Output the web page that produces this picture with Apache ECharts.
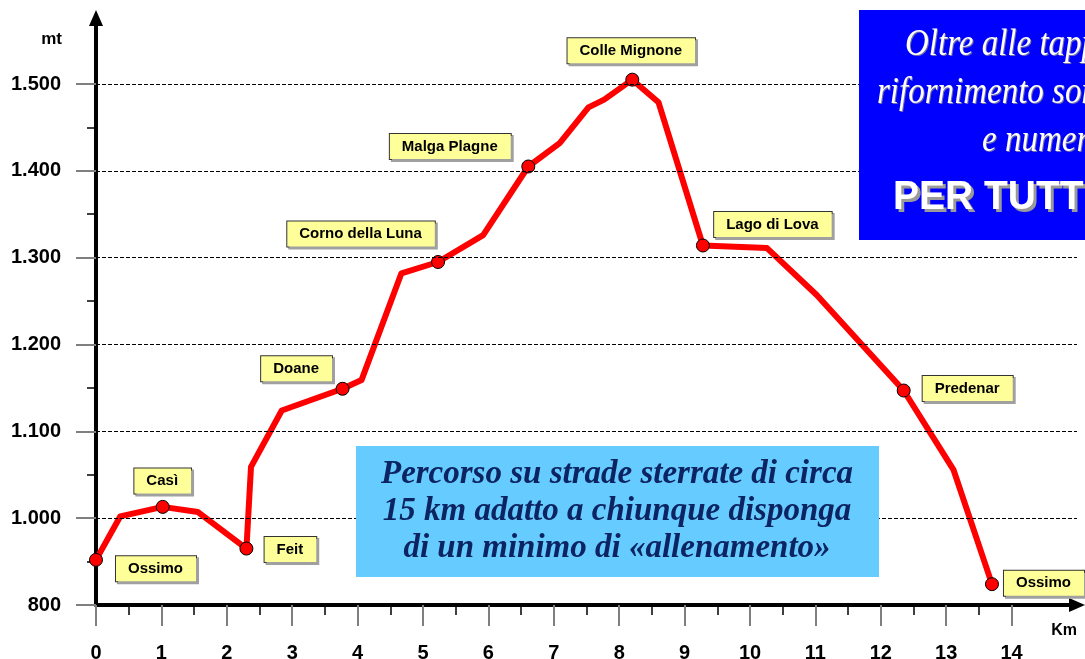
<!DOCTYPE html>
<html>
<head>
<meta charset="utf-8">
<script src="https://cdn.jsdelivr.net/npm/echarts@6/dist/echarts.min.js"></script>
<style>
  html, body { margin: 0; padding: 0; background: #fff; }
  #profilo { width: 1085px; height: 659px; }
</style>
</head>
<body>
<div id="profilo"></div>
<script>
// profilo altimetrico (km, metri)
var profileKm  = [0, 0.37, 1.02, 1.56, 2.30, 2.37, 2.84, 3.77, 4.06, 4.67, 5.23, 5.92, 6.61, 7.09, 7.53, 7.77, 8.20, 8.60, 9.28, 10.26, 11.02, 12.35, 13.11, 13.70];
var profileAlt = [952, 1002, 1013, 1007, 965, 1059, 1124, 1149, 1159, 1282, 1295, 1326, 1405, 1432, 1473, 1482, 1505, 1479, 1314, 1311, 1257, 1147, 1056, 924];

// tappe (indice nel profilo + nome)
var stopIndex = [0, 2, 4, 7, 10, 12, 16, 18, 21, 23];
var stopNames = ['Ossimo', 'Casì', 'Feit', 'Doane', 'Corno della Luna', 'Malga Plagne', 'Colle Mignone', 'Lago di Lova', 'Predenar', 'Ossimo'];

// assi
var xMajor = [0, 1, 2, 3, 4, 5, 6, 7, 8, 9, 10, 11, 12, 13, 14];
var xMinor = [0.5, 1.5, 2.5, 3.5, 4.5, 5.5, 6.5, 7.5, 8.5, 9.5, 10.5, 11.5, 12.5, 13.5];
var yMajor = [900, 1000, 1100, 1200, 1300, 1400, 1500];
var yTickLabels = ['800', '1.000', '1.100', '1.200', '1.300', '1.400', '1.500'];
var yMinor = [950, 1050, 1150, 1250, 1350, 1450];
var gridValues = [1000, 1100, 1200, 1300, 1400, 1500];

var boxText = ['Percorso su strade sterrate di circa', '15 km adatto a chiunque disponga', 'di un minimo di «allenamento»'];
var noteText = ['Oltre alle tappe di', 'rifornimento sono previsti', 'e numerosi', 'PER TUTTI'];

// spostamento delle etichette rispetto al punto
var labelShift = [[60, 9], [0, -26], [44, 1], [-46, -20], [-77, -28], [-78, -20], [-1, -29], [70, -21], [64, -2], [52, -1]];

var chart = echarts.init(document.getElementById('profilo'));

var lineData = [];
for (var i = 0; i < profileKm.length; i++) {
    lineData.push([profileKm[i], profileAlt[i]]);
}

var stopData = [];
for (var j = 0; j < stopIndex.length; j++) {
    var k = stopIndex[j];
    stopData.push({
        value: [profileKm[k], profileAlt[k]],
        name: stopNames[j],
        label: { offset: labelShift[j] }
    });
}

function noteLine(t, x, y, font, fill, z, sy) {
    return {
        type: 'text', x: x, y: y, z: z, scaleY: sy || 1,
        style: { text: t, fill: fill, font: font, textVerticalAlign: 'middle' }
    };
}

var noteFont = 'italic 33px "Liberation Serif"';
var tuttiFont = 'bold 39px "Liberation Sans"';
var graphics = [{
    type: 'rect',
    z: 100,
    shape: { x: 356, y: 446, width: 523, height: 131 },
    style: { fill: '#66ccff' }
}, {
    type: 'rect',
    z: 100,
    shape: { x: 859, y: 10, width: 240, height: 230 },
    style: { fill: '#0000ff' }
}];
boxText.forEach(function(t, n) {
    graphics.push({
        type: 'text', x: 617, y: 474 + n * 37, z: 101,
        style: { text: t, fill: '#0c2462', font: 'italic bold 33px "Liberation Serif"',
            textAlign: 'center', textVerticalAlign: 'middle' }
    });
});
var noteX = [905, 877, 982];
var noteY = [45, 93, 141];
for (var m = 0; m < 3; m++) {
    graphics.push(noteLine(noteText[m], noteX[m] + 1, noteY[m] + 1.5, noteFont, '#7070a8', 101, 1.12));
    graphics.push(noteLine(noteText[m], noteX[m], noteY[m], noteFont, '#fff', 102, 1.12));
}
graphics.push(noteLine(noteText[3], 896, 201, tuttiFont, '#9a9a9a', 101, 1.05));
graphics.push(noteLine(noteText[3], 893, 198, tuttiFont, '#fff', 102, 1.05));

var option = {
    animation: false,
    grid: { left: 96, right: 8, top: 18, bottom: 54, outerBoundsMode: 'none', containLabel: false },
    xAxis: [{
        type: 'value',
        min: 0,
        max: 15,
        name: 'Km',
        nameLocation: 'end',
        nameGap: 0,
        nameTextStyle: { fontFamily: 'Liberation Sans', fontWeight: 'bold', fontSize: 16, color: '#000',
            align: 'right', verticalAlign: 'top', padding: [18, 0, 0, 0] },
        axisLine: { show: true, symbol: ['none', 'triangle'], symbolSize: [14, 16],
            lineStyle: { color: '#000', width: 4 } },
        axisTick: { show: true, customValues: xMajor, length: 21, lineStyle: { color: '#7f7f7f', width: 2 } },
        axisLabel: { customValues: xMajor, margin: 38, fontSize: 20, fontFamily: 'Liberation Sans', fontWeight: 'bold', color: '#000' },
        splitLine: { show: false }
    }, {
        type: 'value',
        min: 0,
        max: 15,
        position: 'bottom',
        axisLine: { show: false },
        axisTick: { show: true, customValues: xMinor, length: 10, lineStyle: { color: '#000', width: 1.5 } },
        axisLabel: { show: false },
        splitLine: { show: false }
    }],
    yAxis: [{
        type: 'value',
        min: 900,
        max: 1576,
        name: 'mt',
        nameLocation: 'end',
        nameGap: -21,
        nameTextStyle: { fontFamily: 'Liberation Sans', fontWeight: 'bold', fontSize: 17, color: '#000',
            align: 'right', verticalAlign: 'middle', padding: [0, 34, 0, 0] },
        axisLine: { show: true, symbol: ['none', 'triangle'], symbolSize: [14, 16],
            lineStyle: { color: '#000', width: 4 } },
        axisTick: { show: true, customValues: yMajor, length: 20, lineStyle: { color: '#7f7f7f', width: 2 } },
        axisLabel: {
            customValues: yMajor,
            margin: 35,
            fontSize: 20,
            fontFamily: 'Liberation Sans',
            fontWeight: 'bold',
            color: '#000',
            formatter: function(v) {
                var idx = yMajor.indexOf(v);
                return idx >= 0 ? yTickLabels[idx] : '';
            }
        },
        splitLine: { show: false }
    }, {
        type: 'value',
        min: 900,
        max: 1576,
        position: 'left',
        axisLine: { show: false },
        axisTick: { show: true, customValues: yMinor, length: 9, lineStyle: { color: '#000', width: 1.5 } },
        axisLabel: { show: false },
        splitLine: { show: false }
    }],
    series: [{
        name: 'profilo',
        type: 'line',
        data: lineData,
        symbol: 'none',
        lineStyle: { color: '#ff0000', width: 6, join: 'round', cap: 'round' },
        z: 3,
        markLine: {
            silent: true,
            symbol: ['none', 'none'],
            label: { show: false },
            lineStyle: { color: '#000', width: 1, type: [4, 2] },
            data: gridValues.map(function(v) { return { yAxis: v }; })
        }
    }, {
        name: 'tappe',
        type: 'scatter',
        data: stopData,
        symbol: 'circle',
        symbolSize: 13,
        itemStyle: { color: '#ff0000', borderColor: '#000', borderWidth: 1, opacity: 1 },
        z: 4,
        label: {
            show: true,
            position: 'inside',
            formatter: '{b}',
            fontFamily: 'Liberation Sans',
            fontWeight: 'bold',
            fontSize: 15,
            color: '#000',
            backgroundColor: '#ffff99',
            borderColor: '#333',
            borderWidth: 1,
            padding: [5, 13, 5, 12],
            shadowColor: '#a0a0a0',
            shadowOffsetX: 2,
            shadowOffsetY: 2
        }
    }],
    graphic: graphics
};

chart.setOption(option);
</script>
</body>
</html>
